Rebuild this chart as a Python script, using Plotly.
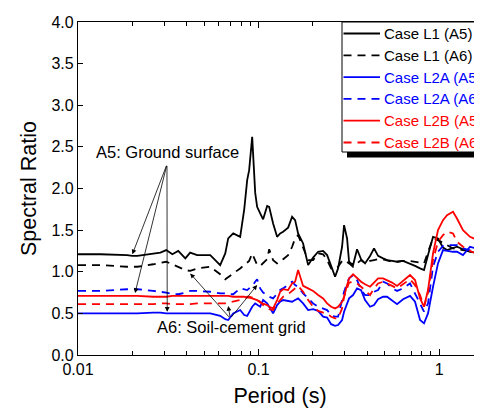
import math
import plotly.graph_objects as go

# Period grid (s)
period = [0.0100, 0.0133, 0.0187, 0.0200, 0.0213, 0.0261, 0.0286, 0.0308, 0.0333, 0.0359,
          0.0393, 0.0418, 0.0457, 0.0540, 0.0613, 0.0654, 0.0679, 0.0724, 0.0791, 0.0833,
          0.0865, 0.0887, 0.0922, 0.0958, 0.0982, 0.1021, 0.1060, 0.1116, 0.1145, 0.1204,
          0.1267, 0.1317, 0.1368, 0.1458, 0.1534, 0.1594, 0.1656, 0.1765, 0.1882, 0.2005,
          0.2137, 0.2278, 0.2397, 0.2523, 0.2654, 0.2757, 0.2901, 0.2976, 0.3092, 0.3172,
          0.3338, 0.3513, 0.3697, 0.3889, 0.4145, 0.4362, 0.4591, 0.4894, 0.5149, 0.5489,
          0.5848, 0.6314, 0.6902, 0.7357, 0.7841, 0.8250, 0.8681, 0.9253, 0.9860, 1.051,
          1.106, 1.194, 1.256, 1.356, 1.483, 1.601, 1.728]

l1_a5 = [1.21, 1.21, 1.20, 1.19, 1.19, 1.22, 1.23, 1.26, 1.21, 1.25,
         1.16, 1.23, 1.20, 1.20, 1.08, 1.22, 1.40, 1.46, 1.42, 1.75,
         2.10, 2.22, 2.62, 1.95, 1.78, 1.70, 1.63, 1.79, 1.78, 1.58,
         1.42, 1.46, 1.48, 1.53, 1.66, 1.62, 1.46, 1.34, 1.08, 1.17,
         1.24, 1.25, 1.20, 1.07, 0.94, 1.04, 1.30, 1.56, 1.40, 1.12,
         1.08, 1.27, 1.15, 1.10, 1.19, 1.28, 1.19, 1.16, 1.14, 1.13,
         1.12, 1.13, 1.10, 1.07, 1.04, 1.02, 1.20, 1.42, 1.40, 1.29,
         1.26, 1.28, 1.30, 1.27, 1.24, 1.23, 1.23]

l1_a6 = [1.08, 1.08, 1.06, 1.06, 1.06, 1.09, 1.11, 1.12, 1.09, 1.06,
         1.02, 1.01, 1.04, 1.06, 0.97, 0.91, 0.94, 0.98, 1.04, 1.08,
         1.11, 1.13, 1.22, 1.12, 1.08, 1.07, 1.10, 1.15, 1.27, 1.14,
         1.10, 1.12, 1.15, 1.20, 1.30, 1.40, 1.44, 1.30, 1.14, 1.14,
         1.22, 1.21, 1.14, 1.04, 1.03, 1.06, 1.13, 1.14, 1.12, 1.10,
         1.06, 1.10, 1.14, 1.10, 1.13, 1.14, 1.15, 1.15, 1.14, 1.12,
         1.12, 1.13, 1.13, 1.12, 1.11, 1.10, 1.24, 1.40, 1.38, 1.35,
         1.32, 1.28, 1.27, 1.26, 1.25, 1.24, 1.23]

l2a_a5 = [0.50, 0.50, 0.50, 0.50, 0.50, 0.51, 0.51, 0.50, 0.50, 0.50,
          0.50, 0.50, 0.50, 0.50, 0.47, 0.43, 0.42, 0.50, 0.54, 0.48,
          0.47, 0.52, 0.58, 0.62, 0.60, 0.58, 0.66, 0.62, 0.58, 0.50,
          0.60, 0.64, 0.66, 0.65, 0.64, 0.66, 0.68, 0.62, 0.54, 0.55,
          0.53, 0.46, 0.45, 0.37, 0.35, 0.36, 0.42, 0.52, 0.63, 0.68,
          0.72, 0.80, 0.78, 0.66, 0.58, 0.60, 0.67, 0.70, 0.70, 0.66,
          0.61, 0.67, 0.71, 0.64, 0.42, 0.38, 0.50, 0.82, 1.10, 1.26,
          1.25, 1.24, 1.24, 1.20, 1.30, 1.28, 1.22]

l2a_a6 = [0.77, 0.77, 0.79, 0.79, 0.79, 0.77, 0.76, 0.75, 0.73, 0.73,
          0.75, 0.77, 0.77, 0.76, 0.74, 0.74, 0.73, 0.73, 0.80, 0.79,
          0.78, 0.80, 0.83, 0.88, 0.91, 0.80, 0.75, 0.72, 0.70, 0.68,
          0.73, 0.78, 0.80, 0.84, 0.88, 0.84, 0.82, 0.74, 0.68, 0.62,
          0.58, 0.56, 0.54, 0.48, 0.46, 0.46, 0.66, 0.76, 0.86, 0.92,
          0.96, 0.90, 0.78, 0.72, 0.72, 0.76, 0.78, 0.88, 0.86, 0.80,
          0.77, 0.80, 0.86, 0.74, 0.62, 0.52, 0.62, 1.06, 1.24, 1.31,
          1.32, 1.32, 1.32, 1.28, 1.26, 1.24, 1.20]

l2b_a5 = [0.71, 0.71, 0.71, 0.71, 0.71, 0.70, 0.70, 0.70, 0.71, 0.71,
          0.71, 0.71, 0.71, 0.71, 0.71, 0.71, 0.71, 0.70, 0.70, 0.70,
          0.69, 0.69, 0.68, 0.67, 0.66, 0.63, 0.62, 0.60, 0.58, 0.56,
          0.66, 0.76, 0.79, 0.78, 0.86, 0.88, 1.02, 0.83, 0.80, 0.77,
          0.72, 0.68, 0.62, 0.58, 0.56, 0.58, 0.64, 0.70, 0.84, 0.92,
          0.97, 0.92, 0.88, 0.85, 0.82, 0.87, 0.92, 0.92, 0.90, 0.87,
          0.83, 0.89, 0.96, 0.90, 0.68, 0.58, 0.78, 1.22, 1.50, 1.62,
          1.68, 1.72, 1.64, 1.50, 1.42, 1.39, 1.36]

l2b_a6 = [0.61, 0.61, 0.61, 0.61, 0.61, 0.61, 0.62, 0.62, 0.61, 0.61,
          0.61, 0.61, 0.62, 0.62, 0.62, 0.62, 0.63, 0.64, 0.66, 0.68,
          0.70, 0.70, 0.69, 0.67, 0.66, 0.64, 0.60, 0.57, 0.55, 0.54,
          0.62, 0.66, 0.70, 0.73, 0.77, 0.80, 0.83, 0.76, 0.66, 0.58,
          0.53, 0.51, 0.50, 0.46, 0.44, 0.44, 0.56, 0.70, 0.80, 0.87,
          0.88, 0.86, 0.82, 0.78, 0.72, 0.80, 0.86, 0.88, 0.86, 0.83,
          0.80, 0.85, 0.91, 0.84, 0.72, 0.58, 0.75, 1.14, 1.36, 1.44,
          1.48, 1.46, 1.36, 1.30, 1.25, 1.22, 1.20]

series_names = ["Case L1 (A5)", "Case L1 (A6)", "Case L2A (A5)",
                "Case L2A (A6)", "Case L2B (A5)", "Case L2B (A6)"]
series_values = [l1_a5, l1_a6, l2a_a5, l2a_a6, l2b_a5, l2b_a6]
series_colors = ["#000000", "#000000", "#0000FF", "#0000FF", "#FF0000", "#FF0000"]
series_dash = ["solid", "8px,6px", "solid", "8px,6px", "solid", "8px,6px"]

x_ticks = [0.01, 0.1, 1]
x_ticktext = ["0.01", "0.1", "1"]

FONT = "Liberation Sans, Arial, sans-serif"

# Geometry: the page body adds an 8px offset, so the figure is sized to put
# the plot area at x 78..482, y 22..355 of the window.
PL, PR, PT, PB = 78.0, 482.0, 22.0, 355.0
PW, PH = PR - PL, PB - PT


def px(xp):
    return (xp - PL) / PW


def py(yp):
    return (PB - yp) / PH


fig = go.Figure()
for name, vals, col, dash in zip(series_names, series_values, series_colors, series_dash):
    fig.add_trace(go.Scatter(
        x=period, y=vals, mode="lines", name=name, showlegend=False,
        line=dict(color=col, width=1.8, dash=dash),
    ))

minor_vals = [m * 10 ** e for e in (-2, -1, 0) for m in range(2, 10)]

fig.update_layout(
    width=474, height=400,
    margin=dict(l=70, r=0, t=14, b=53, autoexpand=False),
    paper_bgcolor="white", plot_bgcolor="white",
    font=dict(family=FONT, size=16, color="black"),
    showlegend=False,
    xaxis=dict(
        type="log", range=[-2, math.log10(1.728)],
        tickvals=x_ticks, ticktext=x_ticktext,
        ticks="inside", ticklen=6, tickwidth=1, tickcolor="black",
        minor=dict(tickvals=minor_vals, ticks="inside", ticklen=4, tickcolor="black"),
        showline=True, linecolor="black", linewidth=1.3, mirror="ticks",
        showgrid=False, zeroline=False,
        tickfont=dict(size=16),
        title=dict(text="Period (s)", font=dict(size=21.5), standoff=12),
    ),
    yaxis=dict(
        range=[0, 4], dtick=0.5, tickformat=".1f",
        ticks="inside", ticklen=5, tickcolor="black",
        showline=True, linecolor="black", linewidth=1.3,
        showgrid=False, zeroline=False,
        tickfont=dict(size=16),
        title=dict(text="Spectral Ratio", font=dict(size=21.5), standoff=8),
    ),
)

# ---- legend box (drawn in the plot corner, running off the right edge) ----
LEG_L, LEG_B = 342.0, 152.0
fig.add_shape(type="rect", xref="paper", yref="paper",
              x0=px(347), x1=1.05, y0=py(157.5), y1=py(LEG_B),
              fillcolor="black", line=dict(width=0), layer="above")
fig.add_shape(type="rect", xref="paper", yref="paper",
              x0=px(LEG_L), x1=1.05, y0=py(LEG_B), y1=1.0,
              fillcolor="white", line=dict(color="black", width=1), layer="above")
ROW0, ROWH = 33.5, 21.8
for i, (name, col, dash) in enumerate(zip(series_names, series_colors, series_dash)):
    yc = py(ROW0 + i * ROWH)
    fig.add_shape(type="line", xref="paper", yref="paper",
                  x0=px(343.5), x1=px(380), y0=yc, y1=yc,
                  line=dict(color=col, width=1.8, dash=dash), layer="above")
    fig.add_annotation(xref="paper", yref="paper", x=px(382), y=yc,
                       xanchor="left", yanchor="middle", text=name,
                       showarrow=False, font=dict(size=15, color=col))


def lx(v):
    return math.log10(v)


ANN = 16.5

# A5 annotation
a5_text = (0.0315, 2.44)
a5_origin = (0.0311, 2.29)
a5_targets = [(0.0200, 1.21), (0.0207, 0.745), (0.0312, 0.52)]
fig.add_annotation(x=lx(a5_text[0]), y=a5_text[1], text="A5: Ground surface",
                   showarrow=False, font=dict(size=ANN))
for tx, ty in a5_targets:
    fig.add_annotation(x=lx(tx), y=ty, ax=lx(a5_origin[0]), ay=a5_origin[1],
                       axref="x", ayref="y", xref="x", yref="y", text="",
                       showarrow=True, arrowhead=2, arrowsize=1.2, arrowwidth=0.8,
                       arrowcolor="black")

# A6 annotation
a6_text = (0.0705, 0.34)
a6_origin = (0.0697, 0.44)
a6_targets = [(0.0418, 0.98), (0.0679, 0.59), (0.0982, 0.84)]
fig.add_annotation(x=lx(a6_text[0]), y=a6_text[1], text="A6: Soil-cement grid",
                   showarrow=False, font=dict(size=ANN))
for tx, ty in a6_targets:
    fig.add_annotation(x=lx(tx), y=ty, ax=lx(a6_origin[0]), ay=a6_origin[1],
                       axref="x", ayref="y", xref="x", yref="y", text="",
                       showarrow=True, arrowhead=2, arrowsize=1.2, arrowwidth=0.8,
                       arrowcolor="black")

fig.write_html("out.html")
